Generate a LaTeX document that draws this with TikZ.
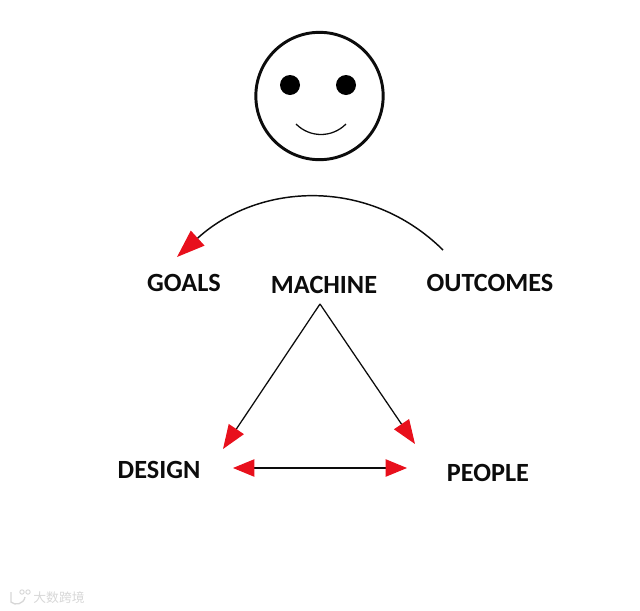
\documentclass[tikz,border=0pt]{standalone}
\usepackage{fontspec}
\setmainfont{Carlito}
\newfontfamily\cjk{Noto Sans CJK SC}
\usetikzlibrary{arrows.meta}
\definecolor{tipred}{RGB}{232,16,28}
\definecolor{inkblack}{RGB}{12,12,12}
\definecolor{markgrey}{RGB}{215,215,215}
\tikzset{
  lbl/.style={font=\bfseries\fontsize{19.7}{22}\selectfont, text=inkblack, inner sep=0pt},
  conn/.style={draw=inkblack, line width=0.95pt},
  hconn/.style={draw=inkblack, line width=0.8pt},
  bigtip/.style={-{Triangle[length=21pt,width=15pt,color=tipred,fill=tipred]}},
  redtip/.style={-{Triangle[length=18pt,width=13.5pt,color=tipred,fill=tipred]}},
  redboth/.style={{Triangle[length=16pt,width=13pt,color=tipred,fill=tipred]}-{Triangle[length=16pt,width=13pt,color=tipred,fill=tipred]}},
}
\begin{document}
\begin{tikzpicture}[x=0.75pt,y=-0.75pt]
\useasboundingbox (0,0) rectangle (640,611);
% face
\node[circle, draw=inkblack, line width=2.2pt, minimum size=95.5pt, inner sep=0pt] (head) at (319.5,96) {};
\node[circle, fill=black, minimum size=15pt, inner sep=0pt] (eyeL) at (290,85) {};
\node[circle, fill=black, minimum size=15pt, inner sep=0pt] (eyeR) at (346,85) {};
\draw[conn] (296,124) .. controls (310,138) and (332,138) .. (346,124);
% labels
\node[lbl] (goals) at (184,283) {GOALS};
\node[lbl] (machine) at (324,285) {MACHINE};
\node[lbl] (outcomes) at (490,283) {OUTCOMES};
\node[lbl] (design) at (159,470) {DESIGN};
\node[lbl] (people) at (488,473) {PEOPLE};
% connector ends
\coordinate (arcS) at (443,250);
\coordinate (arcE) at (177,257);
\coordinate (apex) at (320,304);
\coordinate (dTip) at (223,449);
\coordinate (pTip) at (415,444);
\coordinate (hL) at (233,468);
\coordinate (hR) at (407,468);
\draw[conn,line width=1.1pt,bigtip] (arcS) .. controls (368,176) and (258,183) .. (arcE);
\draw[conn,redtip] (apex) -- (dTip);
\draw[conn,redtip] (apex) -- (pTip);
\draw[hconn,redboth] (hL) -- (hR);
% watermark
\draw[markgrey, line width=1pt] (11,592) -- (11,602) .. controls (15,606) and (24,604) .. (25,597);
\draw[markgrey, line width=0.7pt] (22,592) circle[radius=2.2] (28,592) circle[radius=2.2];
\node[font=\cjk\fontsize{9.6}{10}\selectfont, text=markgrey, inner sep=0pt] (mark) at (59,598) {大数跨境};
\end{tikzpicture}
\end{document}
